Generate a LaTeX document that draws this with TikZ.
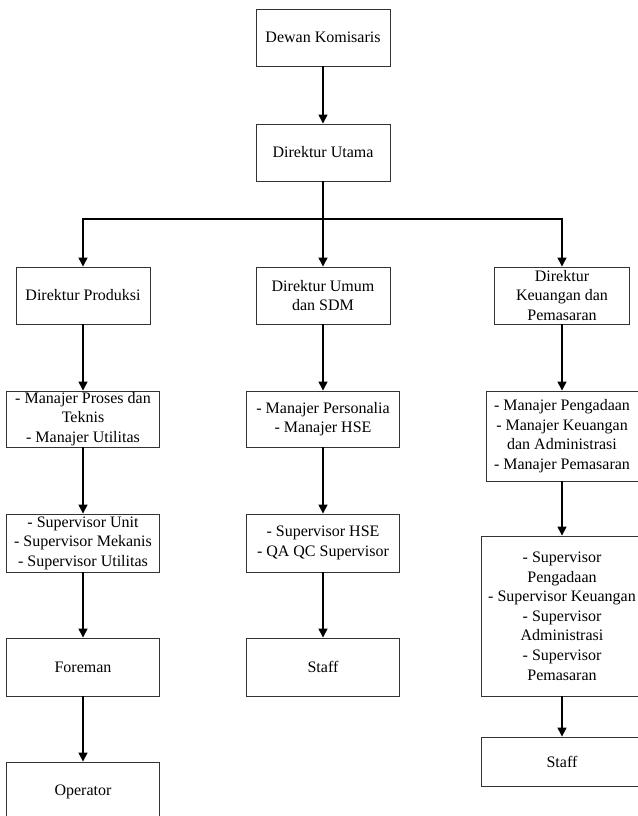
\documentclass[tikz,border=0pt]{standalone}
\usepackage{fontspec}
\setmainfont{Liberation Serif}
\usetikzlibrary{arrows.meta}

\tikzset{
	kotak/.style={draw=black!80, line width=0.9pt, align=center, inner sep=0pt, font=\fontsize{16}{19.6}\selectfont},
	garis/.style={black, line width=1.4pt},
	panah/.style={garis, -{Triangle[width=9pt,length=9pt]}},
}

\begin{document}
\begin{tikzpicture}[x=1pt, y=-1pt]
		
		\useasboundingbox (0,0) rectangle (637,816);
		
		% puncak
		\node[kotak, minimum width=134, minimum height=57] (dk) at (323,37.5) {Dewan Komisaris};
		\node[kotak, minimum width=134, minimum height=57] (du) at (323,152.5) {Direktur Utama};
		
		% para direktur
		\node[kotak, minimum width=134, minimum height=57] (dp) at (83,295.5) {Direktur Produksi};
		\node[kotak, minimum width=134, minimum height=57] (dsdm) at (323,295.5) {Direktur Umum\\dan SDM};
		\node[kotak, minimum width=135, minimum height=57] (dkp) at (562,295.5) {Direktur\\Keuangan dan\\Pemasaran};
		
		% kolom produksi
		\node[kotak, minimum width=153, minimum height=56] (mpt) at (83,419) {- Manajer Proses dan\\Teknis\\- Manajer Utilitas};
		\node[kotak, minimum width=153, minimum height=58] (spu) at (83,543) {- Supervisor Unit\\- Supervisor Mekanis\\- Supervisor Utilitas};
		\node[kotak, minimum width=153, minimum height=58] (fm) at (83,667) {Foreman};
		\node[kotak, minimum width=153, minimum height=60] (op) at (83,792) {Operator};
		
		% kolom umum dan SDM
		\node[kotak, minimum width=153, minimum height=56] (mper) at (323,419) {- Manajer Personalia\\- Manajer HSE};
		\node[kotak, minimum width=153, minimum height=58] (shse) at (323,543) {- Supervisor HSE\\- QA QC Supervisor};
		\node[kotak, minimum width=153, minimum height=58] (st1) at (323,667) {Staff};
		
		% kolom keuangan dan pemasaran
		\node[kotak, minimum width=152, minimum height=90] (mpeng) at (562,436) {- Manajer Pengadaan\\- Manajer Keuangan\\dan Administrasi\\- Manajer Pemasaran};
		\node[kotak, minimum width=162, minimum height=160] (spg) at (562,616) {- Supervisor\\Pengadaan\\- Supervisor Keuangan\\- Supervisor\\Administrasi\\- Supervisor\\Pemasaran};
		\node[kotak, minimum width=162, minimum height=49] (st2) at (562,761.5) {Staff};
		
		% percabangan ke direktur
		\coordinate (cabang) at (323,219);
		\draw[panah] (dk) -- (du);
		\draw[garis] (du) -- (cabang);
		\draw[panah] (cabang) -| (dp.north);
		\draw[panah] (cabang) -- (dsdm);
		\draw[panah] (cabang) -| (dkp.north);
		
		\draw[panah] (dp) -- (mpt);
		\draw[panah] (mpt) -- (spu);
		\draw[panah] (spu) -- (fm);
		\draw[panah] (fm) -- (op);
		
		\draw[panah] (dsdm) -- (mper);
		\draw[panah] (mper) -- (shse);
		\draw[panah] (shse) -- (st1);
		
		\draw[panah] (dkp) -- (mpeng);
		\draw[panah] (mpeng) -- (spg);
		\draw[panah] (spg) -- (st2);
		
	\end{tikzpicture}
\end{document}
